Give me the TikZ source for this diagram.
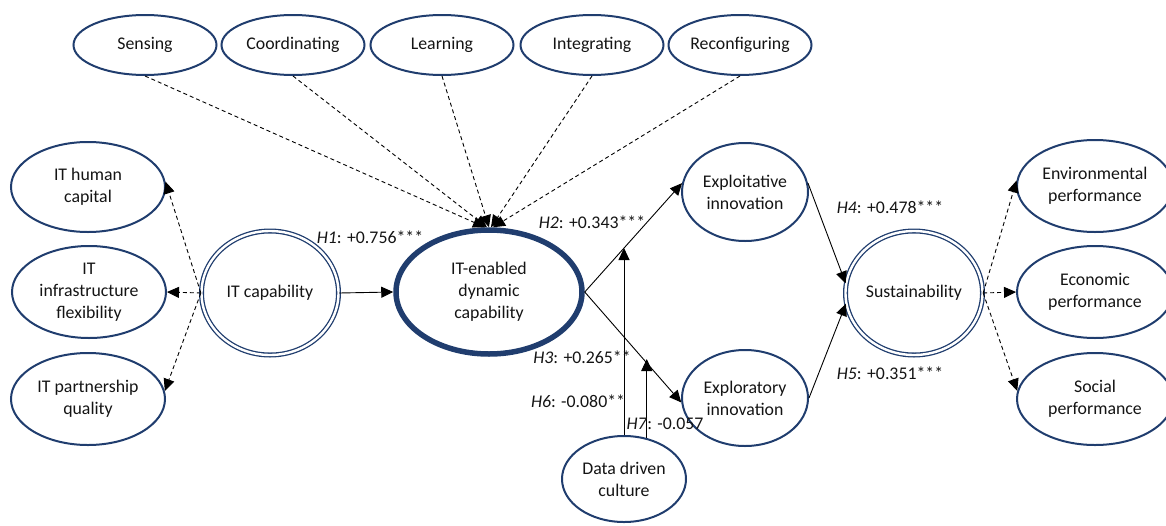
\documentclass[tikz,border=0pt]{standalone}
\usepackage{fontspec}
\setmainfont{Carlito}
\usetikzlibrary{shapes.geometric,arrows.meta,calc}
\definecolor{navy}{HTML}{203D6E}
\begin{document}
\begin{tikzpicture}[x=1pt,y=-1pt,
  every node/.style={font=\fontsize{17.8}{22}\selectfont, text=black!92},
  oval/.style={ellipse, draw=navy, line width=2pt, align=center, inner sep=0pt},
  dbl/.style={ellipse, draw=navy, double=white, line width=1.3pt, double distance=2.4pt, align=center, inner sep=0pt},
  thick oval/.style={ellipse, draw=navy, line width=5.5pt, align=center, inner sep=0pt},
  arr/.style={-{Triangle[length=12pt,width=11pt]}, line width=0.9pt},
  darr/.style={arr, dash pattern=on 4pt off 3pt},
  lbl/.style={inner sep=0pt}
]
\useasboundingbox (0,0) rectangle (1166,525);

% dynamic capability dimensions
\node[oval, minimum width=143pt, minimum height=60pt] (sen) at (145,45) {Sensing};
\node[oval, minimum width=143pt, minimum height=60pt] (coo) at (293,45) {Coordinating};
\node[oval, minimum width=143pt, minimum height=60pt] (lea) at (442,45) {Learning};
\node[oval, minimum width=143pt, minimum height=60pt] (int) at (592,45) {Integrating};
\node[oval, minimum width=143pt, minimum height=60pt] (rec) at (740,45) {Reconfiguring};

% IT capability dimensions
\node[oval, minimum width=154pt, minimum height=90pt] (ihc) at (88,187) {IT human\\capital};
\node[oval, minimum width=154pt, minimum height=92pt] (iif) at (89,292) {IT\\infrastructure\\flexibility};
\node[oval, minimum width=154pt, minimum height=92pt] (ipq) at (88,399) {IT partnership\\quality};

% core constructs
\node[dbl, minimum width=137pt, minimum height=124pt] (itc) at (270,293) {IT capability};
\node[thick oval, minimum width=186pt, minimum height=124pt] (itdc) at (489,292) {IT-enabled\\dynamic\\capability};
\node[oval, minimum width=126pt, minimum height=98pt] (xpi) at (745,192) {Exploitative\\innovation};
\node[oval, minimum width=126pt, minimum height=96pt] (xpr) at (745,398) {Exploratory\\innovation};
\node[oval, minimum width=124pt, minimum height=86pt] (ddc) at (624,479) {Data driven\\culture};
\node[dbl, minimum width=137pt, minimum height=124pt] (sus) at (914,293) {Sustainability};

% sustainability dimensions
\node[oval, minimum width=156pt, minimum height=92pt] (env) at (1095,186) {Environmental\\performance};
\node[oval, minimum width=156pt, minimum height=92pt] (eco) at (1095,292) {Economic\\performance};
\node[oval, minimum width=156pt, minimum height=92pt] (soc) at (1095,399) {Social\\performance};

% reflective indicators
\draw[darr] (sen.south) -- ($(itdc.north)+(-4,0)$);
\draw[darr] (coo.south) -- ($(itdc.north)+(-2,0)$);
\draw[darr] (lea.south) -- ($(itdc.north)+(0,0)$);
\draw[darr] (int.south) -- ($(itdc.north)+(2,0)$);
\draw[darr] (rec.south) -- ($(itdc.north)+(4,0)$);

\draw[darr] (itc.west) -- (ihc.4);
\draw[darr] (itc.west) -- (iif.east);
\draw[darr] (itc.west) -- (ipq.6);

\draw[darr] (sus.east) -- (env.176);
\draw[darr] (sus.east) -- (eco.west);
\draw[darr] (sus.east) -- (soc.174);

% structural paths
\draw[arr] (itc.east) -- (itdc.west);
\draw[arr] (itdc.east) -- (xpi.172);
\draw[arr] (itdc.east) -- (xpr.184);
\draw[arr] (xpi.8) -- (sus.172);
\draw[arr] (xpr.east) -- (sus.189);

% moderation by data driven culture
\coordinate (h6end) at (624,248);
\coordinate (h7end) at (645,359);
\draw[arr] (ddc.north) -- (h6end);
\draw[arr] (ddc.61) -- (ddc.61 |- h7end);

% path coefficients
\node[lbl] (l1) at (370,237) {\textit{H1}: +0.756***};
\node[lbl] (l2) at (592,222) {\textit{H2}: +0.343***};
\node[lbl] (l3) at (582,357) {\textit{H3}: +0.265**};
\node[lbl] (l6) at (578,401) {\textit{H6}: -0.080**};
\node[lbl] (l7) at (665,424) {\textit{H7}: -0.057};
\node[lbl] (l4) at (890,207) {\textit{H4}: +0.478***};
\node[lbl] (l5) at (890,373) {\textit{H5}: +0.351***};
\end{tikzpicture}
\end{document}
